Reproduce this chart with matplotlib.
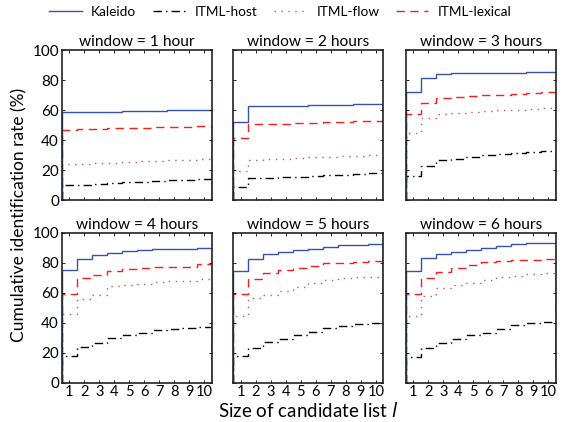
import numpy as np
import matplotlib
matplotlib.use("Agg")
import matplotlib.pyplot as plt
from matplotlib.lines import Line2D

plt.rcParams['font.family'] = ['Lato', 'DejaVu Sans']

# candidate list sizes l = 1..10
sizes = np.arange(1, 11)
titles = ["window = 1 hour", "window = 2 hours", "window = 3 hours",
          "window = 4 hours", "window = 5 hours", "window = 6 hours"]
series_names = ['Kaleido', 'ITML-host', 'ITML-flow', 'ITML-lexical']

# cumulative identification rate (%) per window
kaleido = [
    [58.5, 58.6, 58.8, 59.0, 59.2, 59.4, 59.5, 59.7, 59.8, 60.0],
    [52.2, 62.4, 62.6, 62.8, 63.0, 63.2, 63.4, 63.6, 63.8, 64.0],
    [72.2, 81.1, 83.8, 84.4, 84.6, 84.8, 85.0, 85.0, 85.1, 85.1],
    [74.9, 82.5, 85.3, 86.7, 88.0, 88.7, 89.1, 89.1, 89.1, 90.0],
    [74.2, 82.7, 85.8, 87.1, 88.2, 89.1, 90.4, 91.6, 92.0, 92.4],
    [74.3, 83.2, 85.8, 87.1, 88.2, 89.5, 91.3, 92.6, 93.1, 93.1],
]
itml_host = [
    [10.0, 10.3, 10.8, 11.3, 11.8, 12.3, 12.8, 13.2, 13.6, 13.8],
    [8.9, 14.4, 14.8, 15.2, 15.6, 16.0, 16.4, 16.8, 17.2, 17.8],
    [16.0, 22.7, 26.7, 27.3, 28.5, 30.0, 30.8, 31.5, 32.0, 32.7],
    [17.8, 23.6, 26.7, 29.6, 31.6, 32.9, 35.1, 35.6, 36.2, 37.1],
    [17.5, 23.1, 27.1, 29.4, 32.0, 33.8, 36.4, 37.5, 39.3, 39.8],
    [16.9, 23.3, 26.2, 28.9, 31.8, 33.4, 35.6, 38.5, 40.0, 40.7],
]
itml_flow = [
    [23.8, 24.2, 24.6, 25.0, 25.4, 25.8, 26.2, 26.6, 27.0, 27.3],
    [19.6, 26.8, 27.2, 27.6, 28.0, 28.4, 28.8, 29.2, 29.6, 30.0],
    [44.4, 54.4, 57.3, 58.0, 58.6, 59.2, 59.8, 60.3, 60.8, 61.3],
    [45.5, 55.8, 58.7, 64.2, 65.1, 65.8, 66.9, 67.6, 67.6, 68.9],
    [44.7, 56.7, 58.4, 61.3, 64.0, 66.2, 68.4, 69.5, 70.2, 70.2],
    [44.6, 58.0, 63.1, 65.3, 66.4, 68.2, 70.4, 71.3, 72.4, 73.0],
]
itml_lexical = [
    [47.0, 47.2, 47.5, 47.8, 48.0, 48.3, 48.5, 48.8, 49.0, 49.3],
    [41.6, 50.4, 50.7, 51.0, 51.2, 51.5, 51.8, 52.0, 52.4, 52.7],
    [57.1, 64.7, 68.2, 68.9, 69.3, 69.7, 70.2, 70.7, 71.2, 71.8],
    [59.1, 69.5, 71.5, 74.2, 75.6, 76.7, 77.3, 77.3, 77.3, 78.9],
    [59.1, 69.1, 72.9, 75.1, 76.2, 78.0, 79.6, 79.6, 80.2, 81.0],
    [59.1, 69.5, 73.5, 76.5, 78.7, 80.5, 81.0, 81.8, 81.8, 82.2],
]

# line styles: Kaleido, host, flow, lexical
colors = ['#3553a8', 'black', '#b85a5a', '#ff1a1a']
styles = ['-', (0, (6, 3, 1, 3)), (0, (1, 4)), (0, (6, 4))]

fig = plt.figure(figsize=(5.63, 4.22), dpi=100)

lefts = [0.1096, 0.4144, 0.7211]
bottoms = [0.526, 0.0931]
w, h = 0.2664, 0.3555
edges = np.arange(0.5, 11.0, 1.0)

for i in range(6):
    r, c = divmod(i, 3)
    ax = fig.add_axes([lefts[c], bottoms[r], w, h])
    data = [kaleido[i], itml_host[i], itml_flow[i], itml_lexical[i]]
    # draw host, flow, lexical, then Kaleido on top
    for k in [1, 2, 3, 0]:
        ax.stairs(data[k], edges, baseline=0, color=colors[k],
                  linestyle=styles[k], lw=1.0)
    ax.set_xlim(0.5, 10.5)
    ax.set_ylim(0, 100)
    ax.set_xticks(sizes)
    ax.set_yticks(np.arange(0, 101, 20))
    ax.tick_params(direction='in', top=True, right=True, length=2.5,
                   width=0.6, labelsize=11, pad=2)
    if c != 0:
        ax.set_yticklabels([])
    if r == 0:
        ax.set_xticklabels([])
    else:
        ax.set_xticklabels([str(s) for s in sizes])
        ax.tick_params(axis='x', labelsize=10.5, pad=2)
    for s in ax.spines.values():
        s.set_linewidth(1.2)
        s.set_color('#222222')
    ax.set_title(titles[i], fontsize=11.2, pad=3)

leg_handles = [Line2D([], [], color=colors[k], lw=1.0, linestyle=styles[k])
               for k in range(4)]
fig.legend(leg_handles, series_names,
           loc='center', bbox_to_anchor=(0.498, 0.972), ncol=4, frameon=False,
           fontsize=9.8, handlelength=2.4, columnspacing=1.2,
           handletextpad=0.7)

fig.text(0.035, 0.49, 'Cumulative identification rate (%)', rotation=90,
         ha='center', va='center', fontsize=12.5)
fig.text(0.547, 0.028, 'Size of candidate list $\\mathit{l}$', ha='center',
         va='center', fontsize=13.5)

fig.savefig('out.png', dpi=100)
